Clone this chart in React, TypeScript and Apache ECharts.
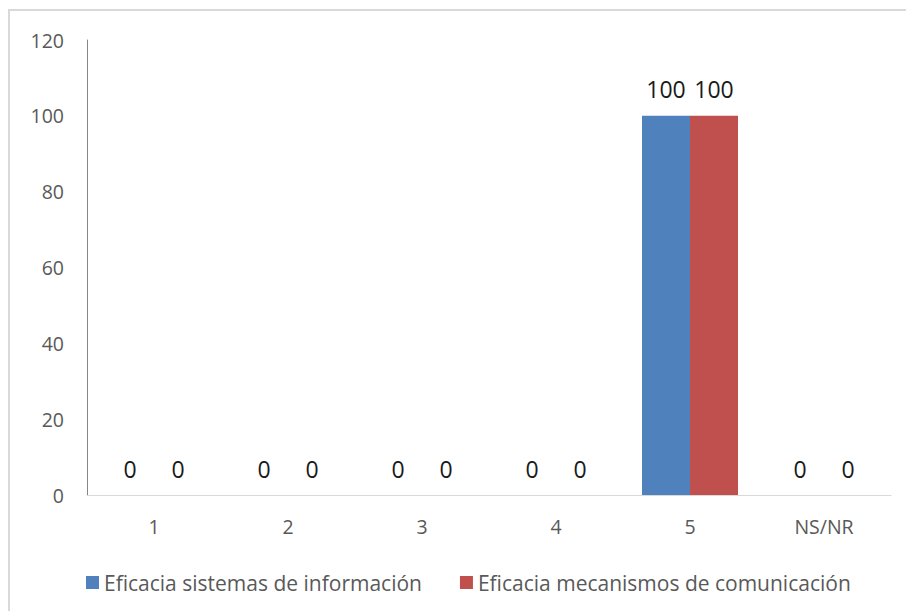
import React, { useEffect, useRef } from "react";
import * as echarts from "echarts";

const categories = ["1", "2", "3", "4", "5", "NS/NR"];
const seriesNames = ["Eficacia sistemas de información", "Eficacia mecanismos de comunicación"];
const sistemas = [0, 0, 0, 0, 100, 0];
const mecanismos = [0, 0, 0, 0, 100, 0];
const yTicks = { min: 0, max: 120, interval: 20 };

const FONT = "'Open Sans', 'Noto Sans', sans-serif";

export default function App() {
  const ref = useRef<HTMLDivElement>(null);
  useEffect(() => {
    document.body.style.margin = "0";
    const chart = echarts.init(ref.current!, null, { renderer: "svg" });
    const label = {
      show: true,
      position: "top" as const,
      distance: 15,
      fontSize: 23,
      color: "#1a1a1a",
      fontFamily: FONT,
    };
    chart.setOption({
      animation: false,
      backgroundColor: "#fff",
      textStyle: { fontFamily: FONT },
      graphic: [
        { type: "line", shape: { x1: 8, y1: 10, x2: 906, y2: 10 }, style: { stroke: "#d9d9d9", lineWidth: 2 } },
        { type: "line", shape: { x1: 9, y1: 10, x2: 9, y2: 611 }, style: { stroke: "#d9d9d9", lineWidth: 2 } },
      ],
      grid: { left: 87, right: 15, top: 40, bottom: 116 },
      legend: {
        left: 81,
        top: 567,
        itemWidth: 13,
        itemHeight: 13,
        itemGap: 38,
        icon: "rect",
        textStyle: { fontSize: 21, color: "#595959", fontFamily: FONT },
        data: seriesNames,
      },
      xAxis: {
        type: "category",
        data: categories,
        axisLine: { lineStyle: { color: "#d9d9d9", width: 1 } },
        axisTick: { show: false },
        axisLabel: { fontSize: 19.5, color: "#595959", margin: 21, fontFamily: FONT },
      },
      yAxis: {
        type: "value",
        min: yTicks.min,
        max: yTicks.max,
        interval: yTicks.interval,
        axisLine: { show: true, lineStyle: { color: "#868686", width: 1 } },
        axisTick: { show: false },
        splitLine: { show: false },
        axisLabel: { fontSize: 19.5, color: "#595959", margin: 23, fontFamily: FONT },
      },
      series: [
        {
          name: seriesNames[0],
          type: "bar",
          data: sistemas,
          barWidth: 48,
          barGap: "0%",
          itemStyle: { color: "#4f81bd" },
          label,
        },
        {
          name: seriesNames[1],
          type: "bar",
          data: mecanismos,
          barWidth: 48,
          barGap: "0%",
          itemStyle: { color: "#c0504d" },
          label,
        },
      ],
    });
    return () => chart.dispose();
  }, []);
  return (
    <div
      ref={ref}
      style={{ position: "absolute", left: 0, top: 0, width: 906, height: 611 }}
    />
  );
}
